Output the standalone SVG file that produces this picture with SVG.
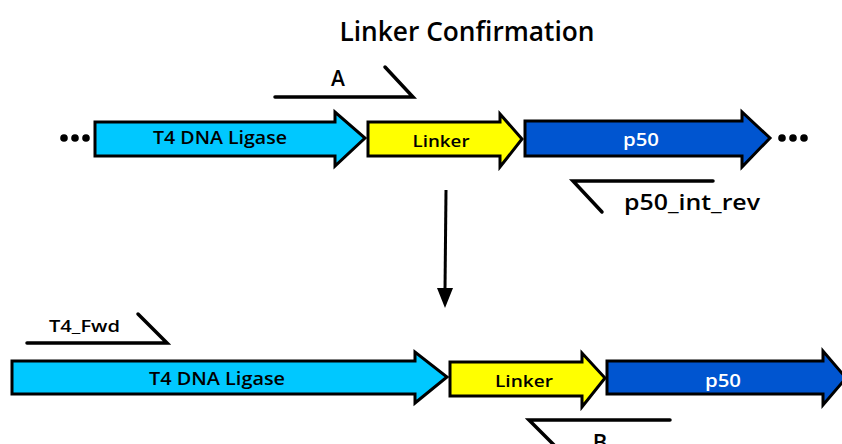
<svg xmlns="http://www.w3.org/2000/svg" width="842" height="444" viewBox="0 0 842 444">
<style>
text{font-family:"Open Sans","Lato","Liberation Sans",sans-serif;font-weight:600;fill:#000}
.gene{stroke:#000;stroke-width:3;stroke-linejoin:miter}
.t4{fill:#00C8FF}
.lk{fill:#FFFF00}
.p50{fill:#0055D0}
.primer{fill:none;stroke:#000;stroke-width:3.5;stroke-linecap:round;stroke-linejoin:miter}
.lbl{text-anchor:middle}
.dot{fill:#000}
.w{fill:#fff}
</style>
<rect width="842" height="444" fill="#fff"/>
<g id="title"><text x="467" y="41" font-size="27" text-anchor="middle" textLength="255" lengthAdjust="spacingAndGlyphs">Linker Confirmation</text></g>

<g id="dots-left"><circle class="dot" cx="64" cy="138" r="3.8"/><circle class="dot" cx="75" cy="138" r="3.8"/><circle class="dot" cx="86" cy="138" r="3.8"/></g>
<g id="t4-top"><path class="gene t4" d="M95,122 L335,122 L335,112 L365,138 L335,166 L335,156 L95,156 Z"/><text class="lbl" x="220" y="144" font-size="18" textLength="134" lengthAdjust="spacingAndGlyphs">T4 DNA Ligase</text></g>
<g id="linker-top"><path class="gene lk" d="M368,122 L500,122 L500,114 L522,139 L500,167 L500,156 L368,156 Z"/><text class="lbl" x="441" y="147" font-size="16.5" textLength="57" lengthAdjust="spacingAndGlyphs">Linker</text></g>
<g id="p50-top"><path class="gene p50" d="M525,121 L742,121 L742,112 L770,138 L742,167 L742,156 L525,156 Z"/><text class="lbl w" x="641" y="146" font-size="17.5" textLength="36" lengthAdjust="spacingAndGlyphs">p50</text></g>
<g id="dots-right"><circle class="dot" cx="782" cy="138" r="3.8"/><circle class="dot" cx="793" cy="138" r="3.8"/><circle class="dot" cx="804" cy="138" r="3.8"/></g>

<g id="primer-A"><polyline class="primer" points="275,97 413,97 385,67"/><text class="lbl" x="338" y="86" font-size="21">A</text></g>
<g id="primer-p50-int-rev"><polyline class="primer" points="713,181 573,181 602,212"/><text x="624" y="210" font-size="21" textLength="136" lengthAdjust="spacingAndGlyphs">p50_int_rev</text></g>

<g id="connectors">
<line x1="446" y1="190" x2="445" y2="290" stroke="#000" stroke-width="3"/>
<polygon points="437,288 453,288 445,308" fill="#000"/>
</g>

<g id="primer-T4-Fwd"><polyline class="primer" points="27,343 167,343 138,314"/><text x="49" y="332" font-size="16.5" textLength="71" lengthAdjust="spacingAndGlyphs">T4_Fwd</text></g>
<g id="t4-bottom"><path class="gene t4" d="M12,361 L415,361 L415,352 L447,377 L415,403 L415,394 L12,394 Z"/><text class="lbl" x="217" y="385" font-size="18" textLength="136" lengthAdjust="spacingAndGlyphs">T4 DNA Ligase</text></g>
<g id="linker-bottom"><path class="gene lk" d="M450,362 L582,362 L582,353 L605,378 L582,407 L582,396 L450,396 Z"/><text class="lbl" x="524" y="387" font-size="16.5" textLength="58" lengthAdjust="spacingAndGlyphs">Linker</text></g>
<g id="p50-bottom"><path class="gene p50" d="M607,361 L823,361 L823,351 L846,378 L823,405 L823,394 L607,394 Z"/><text class="lbl w" x="723" y="387" font-size="17.5" textLength="36" lengthAdjust="spacingAndGlyphs">p50</text></g>
<g id="primer-B"><polyline class="primer" points="670,420 529,420 556,447"/><text class="lbl" x="600" y="450" font-size="22">B</text></g>
</svg>
